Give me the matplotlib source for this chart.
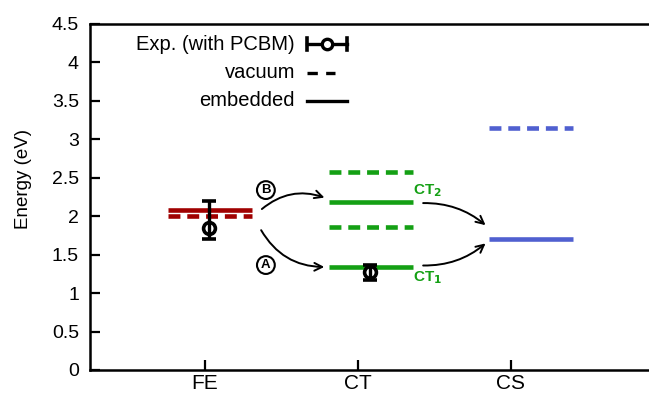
import matplotlib
matplotlib.use("Agg")
import matplotlib.pyplot as plt
import numpy as np

plt.rcParams['font.family'] = ['Liberation Sans', 'DejaVu Sans']

# ---- data ----
states = ["FE", "CT", "CS"]
tick_pos = [1, 2, 3]
ytick_vals = [0, 0.5, 1, 1.5, 2, 2.5, 3, 3.5, 4, 4.5]
ytick_labels = ["0", "0.5", "1", "1.5", "2", "2.5", "3", "3.5", "4", "4.5"]
# level segments: (x_start, x_end)
fe_span = (0.76, 1.31)
ct_span = (1.81, 2.36)
cs_span = (2.86, 3.41)
fe_embedded = 2.08
fe_vacuum = 2.00
ct_embedded = [1.34, 2.18]
ct_vacuum = [1.86, 2.57]
cs_embedded = 1.70
cs_vacuum = 3.15
exp_x = [1.03, 2.08]
exp_y = [1.85, 1.27]
exp_err_low = [0.15, 0.10]
exp_err_high = [0.35, 0.10]

red = "#a00000"
green = "#14a014"
blue = "#5060d0"

fig = plt.figure(figsize=(6.49, 3.96), dpi=100)
ax = fig.add_axes([90/649, 1-370/396, 1-90/649, 346/396])

lw = 3.3
dash = (0, (2.6, 1.5))

ax.hlines(fe_embedded, *fe_span, color=red, lw=lw)
ax.hlines(fe_vacuum, *fe_span, color=red, lw=lw, linestyles=[dash])
for v in ct_embedded:
    ax.hlines(v, *ct_span, color=green, lw=lw)
for v in ct_vacuum:
    ax.hlines(v, *ct_span, color=green, lw=lw, linestyles=[dash])
ax.hlines(cs_embedded, *cs_span, color=blue, lw=lw)
ax.hlines(cs_vacuum, *cs_span, color=blue, lw=lw, linestyles=[dash])

# experimental points: markers below error bars
ax.plot(exp_x, exp_y, 'o', mfc='white', mec='black', ms=8.5, mew=2.6, zorder=4)
ax.errorbar(exp_x, exp_y, yerr=[exp_err_low, exp_err_high], fmt='none', ecolor='black',
            elinewidth=2.4, capsize=5, capthick=2.6, zorder=5)

# arrows FE -> CT
akw = dict(arrowstyle='->', color='black', lw=1.4, mutation_scale=14)
ax.annotate("", xy=(1.80, 2.23), xytext=(1.36, 2.07),
            arrowprops=dict(connectionstyle="arc3,rad=-0.3", **akw))
ax.annotate("", xy=(1.80, 1.34), xytext=(1.36, 1.85),
            arrowprops=dict(connectionstyle="arc3,rad=0.3", **akw))
# arrows CT -> CS
ax.annotate("", xy=(2.85, 1.86), xytext=(2.41, 2.17),
            arrowprops=dict(connectionstyle="arc3,rad=-0.2", **akw))
ax.annotate("", xy=(2.85, 1.67), xytext=(2.41, 1.36),
            arrowprops=dict(connectionstyle="arc3,rad=0.2", **akw))

circ = dict(boxstyle='circle,pad=0.22', fc='white', ec='black', lw=1.5)
ax.text(1.40, 2.34, "B", fontsize=9.5, fontweight='bold', ha='center', va='center', bbox=circ)
ax.text(1.40, 1.365, "A", fontsize=9.5, fontweight='bold', ha='center', va='center', bbox=circ)

ax.text(2.365, 2.33, "CT$_\\mathbf{2}$", color=green, fontsize=11, fontweight='bold',
        ha='left', va='center')
ax.text(2.365, 1.20, "CT$_\\mathbf{1}$", color=green, fontsize=11, fontweight='bold',
        ha='left', va='center')

# legend (manual)
lx_text = (295-90)/559
hx0 = (307-90)/559
hx1 = (347-90)/559
rows = [(370-44)/346, (370-73)/346, (370-101)/346]
T = ax.transAxes
for r, lab in zip(rows, ["Exp. (with PCBM)", "vacuum", "embedded"]):
    ax.text(lx_text, r, lab, transform=T, ha='right', va='center', fontsize=14.5)
ax.plot([hx0, hx1], [rows[0]]*2, transform=T, color='black', lw=2.4)
ax.plot([hx0, hx0], [rows[0]-0.018, rows[0]+0.018], transform=T, color='black', lw=2.6)
ax.plot([hx1, hx1], [rows[0]-0.018, rows[0]+0.018], transform=T, color='black', lw=2.6)
ax.plot([(hx0+hx1)/2], [rows[0]], 'o', transform=T, mfc='white', mec='black', ms=7.5, mew=2.4)
ax.plot([hx0, (335-90)/559], [rows[1]]*2, transform=T, color='black', lw=2.4,
        ls=(0, (3.1, 2.5)))
ax.plot([hx0, hx1], [rows[2]]*2, transform=T, color='black', lw=2.4)

ax.set_xlim(0.25, 3.905)
ax.set_ylim(0, 4.5)
ax.set_xticks(tick_pos)
ax.set_xticklabels(states)
ax.set_yticks(ytick_vals)
ax.set_yticklabels(ytick_labels)
ax.tick_params(direction='in', length=7, width=1.6)
ax.tick_params(axis='x', labelsize=15, pad=3)
ax.tick_params(axis='y', labelsize=14, pad=8)
ax.set_ylabel("Energy (eV)", fontsize=13.5)
ax.yaxis.set_label_coords(-0.104, 0.553)
for s in ['left', 'bottom', 'top']:
    ax.spines[s].set_linewidth(1.8)
ax.spines['right'].set_visible(False)

fig.savefig("out.png", dpi=100)
